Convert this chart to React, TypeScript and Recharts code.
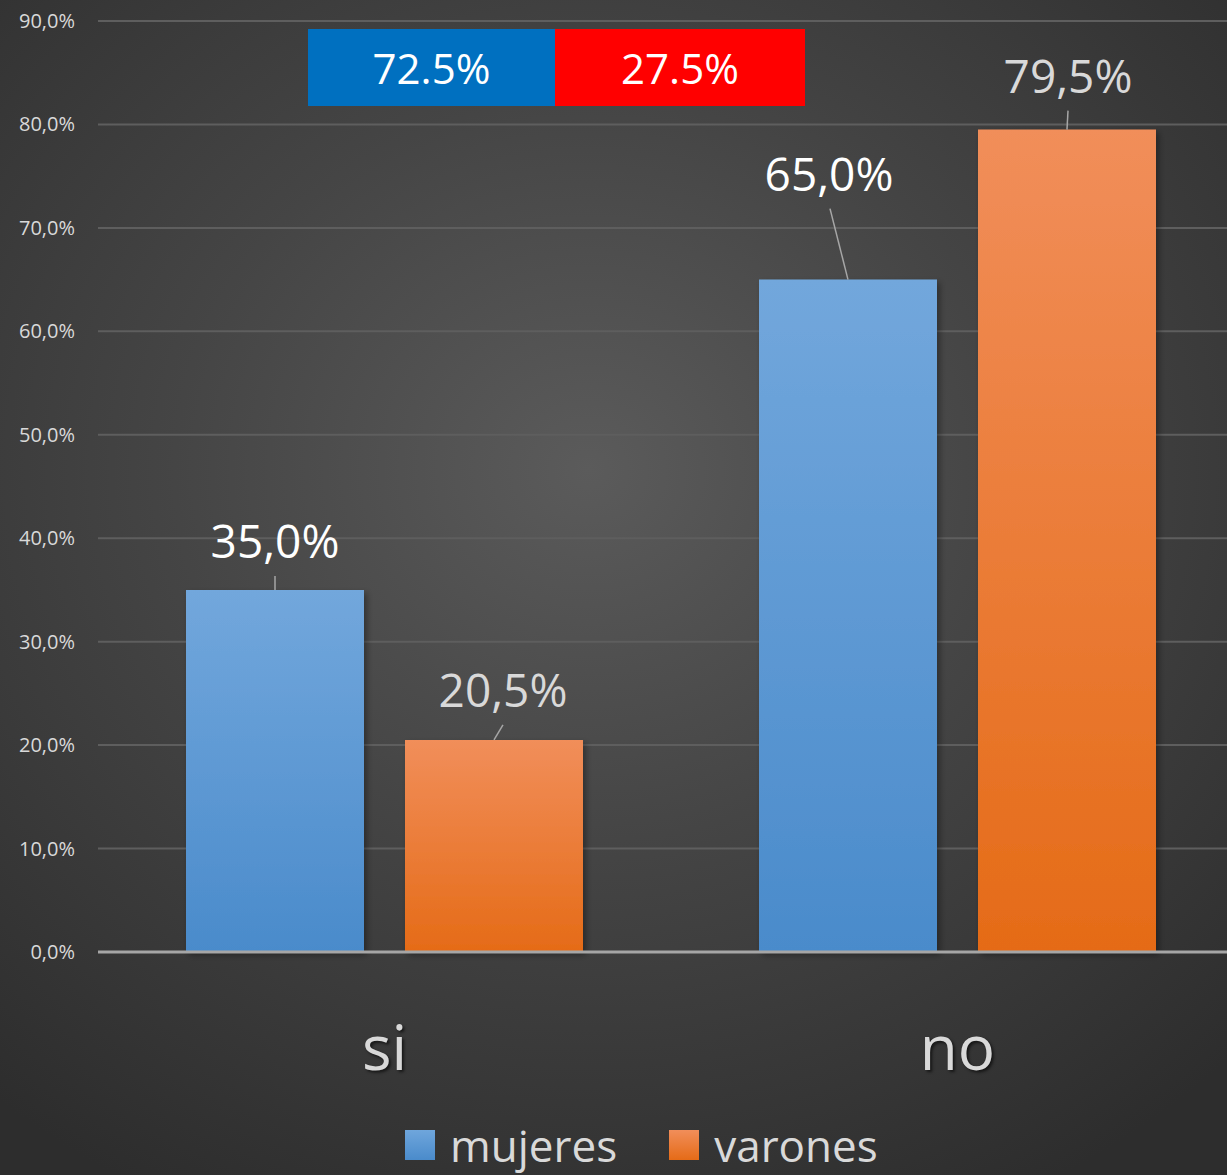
import React from 'react';
import { BarChart, Bar, XAxis, YAxis, CartesianGrid, LabelList } from 'recharts';

const categories = ['si', 'no'];
const mujeres = [35.0, 65.0];
const varones = [20.5, 79.5];
const yTicks = [0, 10, 20, 30, 40, 50, 60, 70, 80, 90];
const seriesNames = ['mujeres', 'varones'];
const shareLabels = ['72.5%', '27.5%'];
const shareColors = ['#0070C0', '#FF0000'];

const data = categories.map((c, i) => ({ cat: c, mujeres: mujeres[i], varones: varones[i] }));

const FONT = '"Open Sans", "Noto Sans", sans-serif';
const fmt = (v: number) => v.toFixed(1).replace('.', ',') + '%';

// label placement offsets relative to the top-centre of each bar: [textDx, textDy, lineDx, lineDy]
const mujOffsets = [[0, -32, 0, -14], [-19, -89, -18, -71]];
const varOffsets = [[9, -33, 9, -15], [1, -37, 1, -19]];

const makeLabel = (offsets: number[][], color: string) => (props: any) => {
  const { x, y, width, value, index } = props;
  const cx = x + width / 2;
  const o = offsets[index] || [0, -30, 0, -12];
  return (
    <g>
      <line x1={cx + o[2]} y1={y + o[3]} x2={cx} y2={y} stroke="#a6a6a6" strokeWidth={1.5} />
      <text x={cx + o[0]} y={y + o[1]} textAnchor="middle" fill={color} fontSize={46} fontFamily={FONT}>
        {fmt(value)}
      </text>
    </g>
  );
};

const XTick = (props: any) => {
  const { x, y, payload } = props;
  return (
    <text x={x} y={y + 110} textAnchor="middle" fill="#d9d9d9" fontSize={62} fontFamily={FONT}
      style={{ textShadow: '2px 2px 3px rgba(0,0,0,0.6)' }}>
      {payload.value}
    </text>
  );
};

const YTick = (props: any) => {
  const { x, y, payload } = props;
  return (
    <text x={x} y={y} dy={7} textAnchor="end" fill="#d9d9d9" fontSize={20} fontFamily={FONT}>
      {fmt(payload.value)}
    </text>
  );
};

export default function App() {
  return (
    <div style={{ position: 'absolute', left: 0, top: 0, width: 1227, height: 1175, overflow: 'hidden',
      background: 'radial-gradient(ellipse 75% 70% at 48% 40%, #5b5b5b 0%, #454545 45%, #2d2d2d 100%)' }}>
      <BarChart width={1227} height={1175} data={data}
        margin={{ top: 21, right: -17, left: 0, bottom: 60 }} barGap={41} barSize={178}>
        <defs>
          <linearGradient id="gBlue" x1="0" y1="0" x2="0" y2="1">
            <stop offset="0%" stopColor="#72a7dc" />
            <stop offset="100%" stopColor="#4a8bcb" />
          </linearGradient>
          <linearGradient id="gOrange" x1="0" y1="0" x2="0" y2="1">
            <stop offset="0%" stopColor="#f18e5a" />
            <stop offset="100%" stopColor="#e56b17" />
          </linearGradient>
          <filter id="shadow" x="-10%" y="-10%" width="130%" height="130%">
            <feDropShadow dx="3" dy="3" stdDeviation="3" floodColor="#000" floodOpacity="0.35" />
          </filter>
        </defs>
        <CartesianGrid vertical={false} stroke="#5e5e5e" strokeWidth={2} />
        <YAxis domain={[0, 90]} ticks={yTicks} width={98} axisLine={false} tickLine={false}
          tickSize={0} tickMargin={23} tick={<YTick />} interval={0} />
        <XAxis dataKey="cat" height={163} tick={<XTick />} tickLine={false}
          axisLine={{ stroke: '#a6a6a6', strokeWidth: 3 }} />
        <Bar dataKey="mujeres" name={seriesNames[0]} fill="url(#gBlue)" isAnimationActive={false} filter="url(#shadow)">
          <LabelList dataKey="mujeres" content={makeLabel(mujOffsets, '#ffffff')} />
        </Bar>
        <Bar dataKey="varones" name={seriesNames[1]} fill="url(#gOrange)" isAnimationActive={false} filter="url(#shadow)">
          <LabelList dataKey="varones" content={makeLabel(varOffsets, '#d9d9d9')} />
        </Bar>
      </BarChart>
      {/* share boxes */}
      <div style={{ position: 'absolute', left: 308, top: 29, height: 77, display: 'flex' }}>
        {shareLabels.map((s, i) => (
          <div key={s} style={{ width: i === 0 ? 247 : 250, height: 77, background: shareColors[i], color: '#fff',
            fontFamily: FONT, fontSize: 42, display: 'flex', alignItems: 'center', justifyContent: 'center' }}>
            {s}
          </div>
        ))}
      </div>
      {/* legend */}
      <div style={{ position: 'absolute', left: 405, top: 1117, display: 'flex', alignItems: 'center',
        fontFamily: FONT, fontSize: 44, color: '#d9d9d9' }}>
        {seriesNames.map((n, i) => (
          <div key={n} style={{ display: 'flex', alignItems: 'center', marginRight: i === 0 ? 52 : 0 }}>
            <div style={{ width: 30, height: 30, marginRight: 15,
              background: i === 0 ? 'linear-gradient(#6fa6dc,#4a8bcb)' : 'linear-gradient(#f18e5a,#e56b17)' }} />
            <span style={{ lineHeight: '56px' }}>{n}</span>
          </div>
        ))}
      </div>
    </div>
  );
}
